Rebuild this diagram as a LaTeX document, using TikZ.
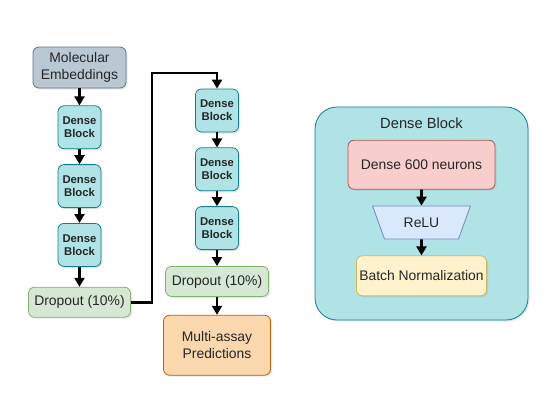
\documentclass[tikz,border=0pt]{standalone}
\usepackage{fontspec}
\setmainfont{Liberation Sans}
\usetikzlibrary{positioning,shapes.geometric,arrows.meta,shadows}
\definecolor{embfill}{HTML}{BAC8D3}
\definecolor{embline}{HTML}{5E7489}
\definecolor{tealfill}{HTML}{B0E3E6}
\definecolor{tealline}{HTML}{0E8088}
\definecolor{greenfill}{HTML}{D5E8D4}
\definecolor{greenline}{HTML}{82B366}
\definecolor{orangefill}{HTML}{FAD7AC}
\definecolor{orangeline}{HTML}{B46504}
\definecolor{redfill}{HTML}{F8CECC}
\definecolor{redline}{HTML}{B85450}
\definecolor{bluefill}{HTML}{DAE8FC}
\definecolor{blueline}{HTML}{6C8EBF}
\definecolor{yellowfill}{HTML}{FFF2CC}
\definecolor{yellowline}{HTML}{D6B656}
\begin{document}
\begin{tikzpicture}[
    every node/.style={text=black!85, align=center, inner sep=2pt, font=\fontsize{13.9}{16.7}\selectfont},
    box/.style={rectangle, rounded corners=6pt, draw, line width=0.8pt,
        drop shadow={shadow xshift=1.5pt, shadow yshift=-1.5pt, opacity=0.2}},
    embed/.style={box, fill=embfill, draw=embline, minimum width=93pt, minimum height=41pt},
    dblock/.style={box, fill=tealfill, draw=tealline, minimum width=43pt, minimum height=43pt,
        font=\fontsize{11.3}{13.3}\selectfont\bfseries},
    dropbox/.style={box, fill=greenfill, draw=greenline, minimum height=30pt},
    outbox/.style={box, fill=orangefill, draw=orangeline, minimum width=107pt, minimum height=60pt},
    panel/.style={box, rounded corners=22pt, fill=tealfill, draw=tealline, minimum width=213pt, minimum height=213pt},
    layer/.style={box, fill=redfill, draw=redline, minimum width=147pt, minimum height=49pt},
    actbox/.style={trapezium, trapezium stretches=true, shape border rotate=180,
        trapezium left angle=65, trapezium right angle=65, draw, line width=0.8pt,
        fill=bluefill, draw=blueline, minimum width=98pt, minimum height=33pt},
    normbox/.style={box, fill=yellowfill, draw=yellowline, minimum width=130pt, minimum height=40pt},
    arr/.style={draw=black, line width=2.7pt, -{Triangle[length=9pt,width=10pt]}}
]
\useasboundingbox (0,0) rectangle (551pt,-416pt);
% left column
\node[embed] (emb) at (79.5pt,-67.5pt) {Molecular\\Embeddings};
\node[dblock, below=17pt of emb] (db1) {Dense\\Block};
\node[dblock, below=15pt of db1] (db2) {Dense\\Block};
\node[dblock, below=15pt of db2] (db3) {Dense\\Block};
\node[dropbox, minimum width=102pt, below=20pt of db3] (drop1) {Dropout (10\%)};
% right column
\node[dblock] (rdb1) at (217pt,-110.5pt) {Dense\\Block};
\node[dblock, below=15pt of rdb1] (rdb2) {Dense\\Block};
\node[dblock, below=15pt of rdb2] (rdb3) {Dense\\Block};
\node[dropbox, minimum width=103pt, below=16pt of rdb3] (drop2) {Dropout (10\%)};
\node[outbox, below=18pt of drop2] (pred) {Multi-assay\\Predictions};
\coordinate (turn) at (152pt,-73pt);
% dense block detail
\node[panel] (panel) at (421.5pt,-213.5pt) {};
\node[inner sep=0pt, font=\fontsize{14.7}{16}\selectfont, below=11pt of panel.north] (ptitle) {Dense Block};
\node[layer, below=11pt of ptitle] (dense) {Dense 600 neurons};
\node[actbox, below=16pt of dense] (relu) {ReLU};
\node[normbox, below=16pt of relu] (bnorm) {Batch Normalization};
% connectors
\draw[arr] (emb) -- (db1);
\draw[arr] (db1) -- (db2);
\draw[arr] (db2) -- (db3);
\draw[arr] (db3) -- (drop1);
\draw[arr] (drop1.east) -| (turn) -| (rdb1.north);
\draw[arr] (rdb1) -- (rdb2);
\draw[arr] (rdb2) -- (rdb3);
\draw[arr] (rdb3) -- (drop2);
\draw[arr] (drop2) -- (pred);
\draw[arr] (dense) -- (relu);
\draw[arr] (relu) -- (bnorm);
\end{tikzpicture}
\end{document}
